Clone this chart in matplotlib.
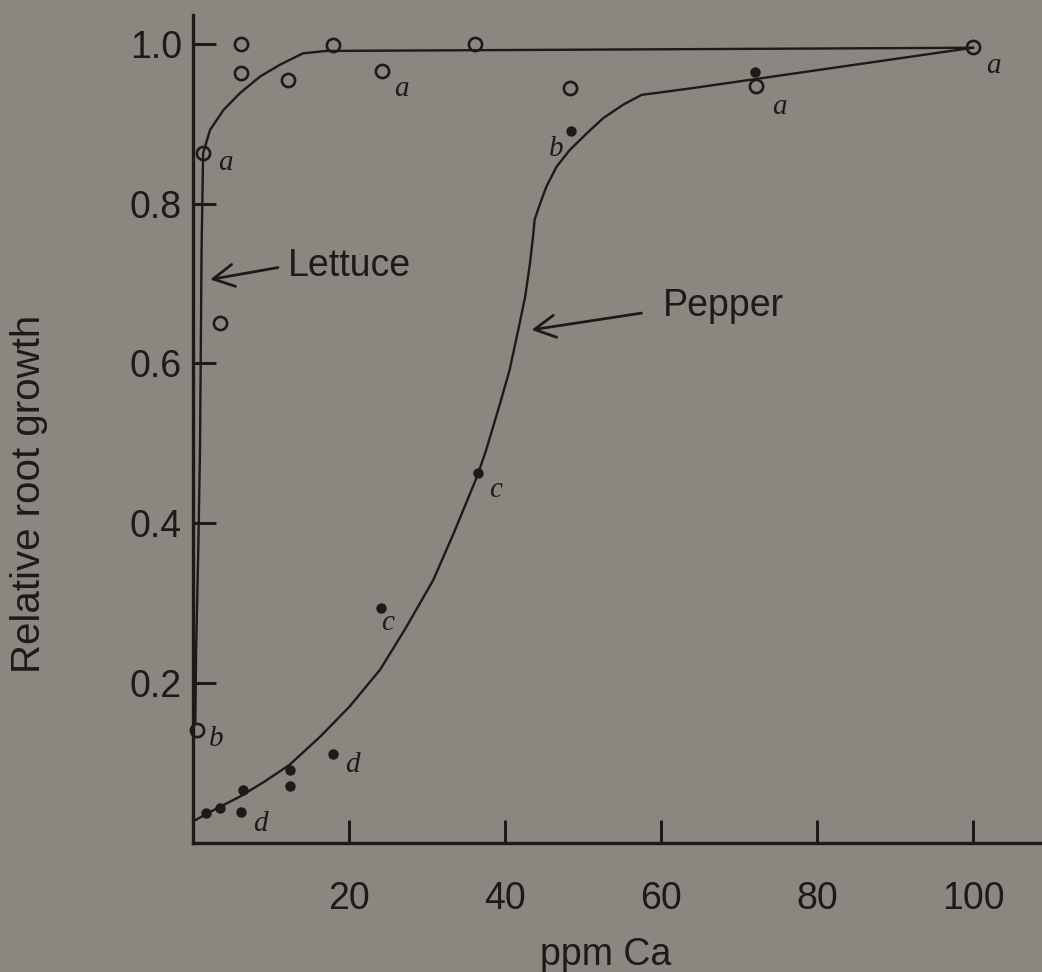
import matplotlib.pyplot as plt

# relative root growth vs. calcium concentration
lettuce_x = [1.3, 6.15, 6.2, 12.2, 17.9, 24.2, 36.2, 48.3, 72.2, 100.0, 3.5, 0.5]
lettuce_y = [0.863, 1.0, 0.963, 0.955, 0.998, 0.966, 1.0, 0.945, 0.947, 0.996, 0.65, 0.141]
lettuce_tags = ['a', '', '', '', '', 'a', '', '', 'a', 'a', '', 'b']

pepper_x = [72.0, 48.5, 36.6, 24.1, 18.0, 12.4, 12.4, 6.4, 6.1, 3.5, 1.7]
pepper_y = [0.965, 0.891, 0.463, 0.294, 0.111, 0.091, 0.071, 0.066, 0.039, 0.044, 0.037]
pepper_tags = ['', 'b', 'c', 'c', 'd', '', '', '', 'd', '', '']

# hand-fitted response curves
lettuce_curve_x = [0.3, 0.4, 0.68, 0.9, 1.1, 1.3, 2.18, 3.9, 6.0, 8.6, 11.2, 14.1, 17.1, 100.0]
lettuce_curve_y = [0.15, 0.24, 0.367, 0.492, 0.742, 0.863, 0.892, 0.917, 0.938, 0.959, 0.974, 0.988, 0.991, 0.995]

pepper_curve_x = [0.0, 3.0, 6.0, 9.2, 12.4, 16.3, 20.1, 24.0, 27.4, 30.8, 33.4, 36.4, 37.6, 39.4, 40.6,
                  41.7, 42.6, 43.2, 43.6, 43.8, 44.5, 45.3, 46.6, 48.3, 50.5, 52.6, 55.2, 57.5, 63.7, 100.0]
pepper_curve_y = [0.027, 0.043, 0.058, 0.077, 0.098, 0.133, 0.171, 0.217, 0.271, 0.329, 0.387, 0.458, 0.492, 0.551, 0.592,
                  0.642, 0.684, 0.725, 0.759, 0.780, 0.800, 0.821, 0.846, 0.867, 0.888, 0.907, 0.924, 0.936, 0.944, 0.995]

# letter offsets (points) from each tagged point
lettuce_offsets = {0: (16, -7), 5: (14, -13), 8: (17, -15), 9: (15, -14), 11: (14, -6)}
pepper_offsets = {1: (-11, -13), 2: (12, -12), 3: (5, -11), 4: (14, -8), 8: (14, -9)}

x_ticks = [20, 40, 60, 80, 100]
y_ticks = [0.2, 0.4, 0.6, 0.8, 1.0]

bg = '#8b8780'
ink = '#1c1b1a'

plt.rcParams['font.family'] = ['Liberation Sans', 'DejaVu Sans']

fig = plt.figure(figsize=(10.42, 9.72), dpi=100, facecolor=bg)
ax = fig.add_axes([0.1852, 0.1327, 0.8148, 0.8519])
ax.set_facecolor(bg)
ax.set_xlim(0, 108.85)
ax.set_ylim(0, 1.036)

for s in ['top', 'right']:
    ax.spines[s].set_visible(False)
for s in ['left', 'bottom']:
    ax.spines[s].set_linewidth(2.4)
    ax.spines[s].set_color(ink)

ax.set_xticks(x_ticks)
ax.set_xticklabels([str(t) for t in x_ticks])
ax.set_yticks(y_ticks)
ax.set_yticklabels(['%.1f' % t for t in y_ticks])
ax.tick_params(axis='both', direction='in', length=16.5, width=2.2, color=ink,
               labelsize=27, labelcolor=ink)
ax.tick_params(axis='x', pad=27)
ax.tick_params(axis='y', pad=8)

ax.plot(lettuce_curve_x, lettuce_curve_y, color=ink, lw=1.7, zorder=2, clip_on=False)
ax.plot(pepper_curve_x, pepper_curve_y, color=ink, lw=1.7, zorder=2, clip_on=False)

ax.plot(lettuce_x, lettuce_y, 'o', ms=9.5, mfc='none', mec=ink, mew=1.9, zorder=3, clip_on=False)
ax.plot(pepper_x, pepper_y, 'o', ms=6.5, mfc=ink, mec=ink, zorder=3, clip_on=False)

tag_font = dict(family='Liberation Serif', style='italic', size=21, color=ink)
for i, (dx, dy) in lettuce_offsets.items():
    ax.annotate(lettuce_tags[i], (lettuce_x[i], lettuce_y[i]), xytext=(dx, dy),
                textcoords='offset points', ha='center', va='center', **tag_font)
for i, (dx, dy) in pepper_offsets.items():
    ax.annotate(pepper_tags[i], (pepper_x[i], pepper_y[i]), xytext=(dx, dy),
                textcoords='offset points', ha='center', va='center', **tag_font)

arrow = dict(arrowstyle='->,head_length=0.6,head_width=0.32', lw=2.0, color=ink,
             mutation_scale=25, shrinkA=0, shrinkB=0)
ax.annotate('', xy=(2.2, 0.705), xytext=(10.9, 0.72), arrowprops=arrow)
ax.text(12.2, 0.722, 'Lettuce', fontsize=27, color=ink, ha='left', va='center')
ax.annotate('', xy=(43.4, 0.642), xytext=(57.5, 0.663), arrowprops=arrow)
ax.text(60.3, 0.672, 'Pepper', fontsize=27, color=ink, ha='left', va='center')

fig.text(606 / 1042, 1 - 955 / 972, 'ppm Ca', fontsize=27, color=ink, ha='center', va='center')
fig.text(29 / 1042, 1 - 494 / 972, 'Relative root growth', fontsize=29, color=ink,
         rotation=90, ha='center', va='center')

fig.savefig('out.png', dpi=100, facecolor=bg)
